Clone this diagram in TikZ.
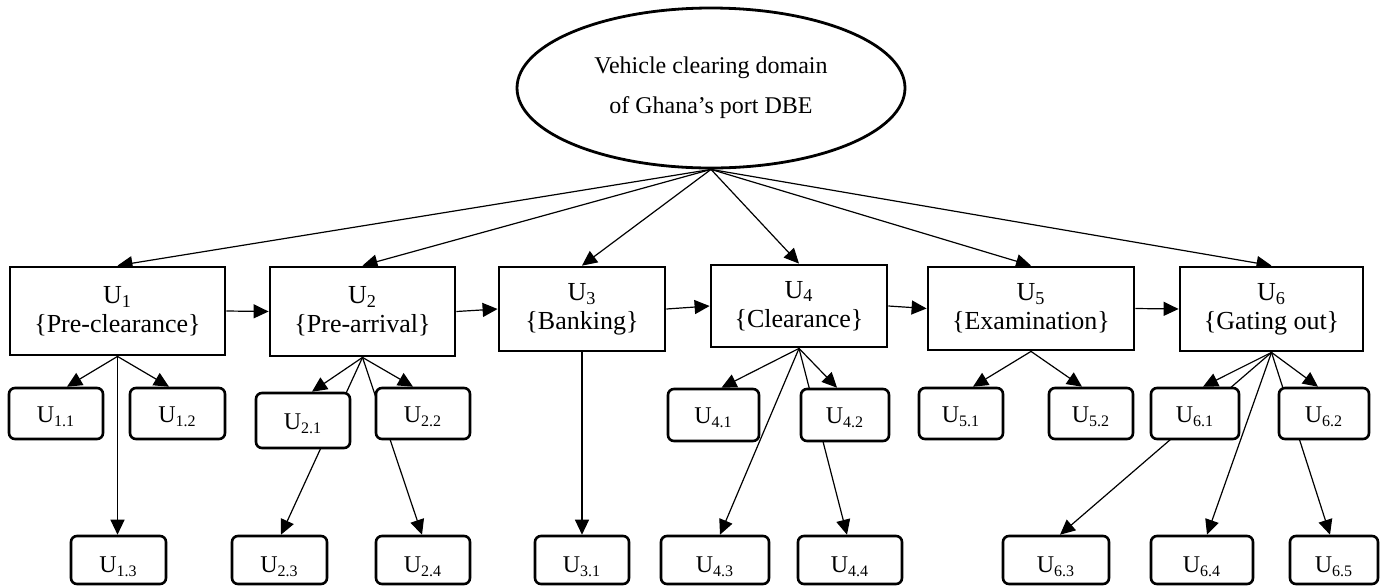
\documentclass[tikz,border=0pt]{standalone}
\usepackage{fontspec}
\setmainfont{Liberation Serif}
\usetikzlibrary{arrows.meta,shapes.geometric,backgrounds}
\newcommand\subU[1]{\raisebox{-1.5pt}[\height][\depth]{U\textsubscript{#1}}}
\newcommand\mainU[1]{U\textsubscript{#1}}
\newcommand\lowU[1]{\raisebox{-3.5pt}[\height][\depth]{U\textsubscript{#1}}}
\begin{document}
\begin{tikzpicture}[x=0.5pt,y=-0.5pt,
  root/.style={ellipse,draw,line width=1.4pt,fill=white,minimum width=194pt,minimum height=80pt,inner sep=0pt,align=center,font=\fontsize{12}{20}\selectfont},
  mainbox/.style={rectangle,draw,line width=1.4pt,fill=white,align=center,inner sep=0pt,font=\fontsize{13}{14.5}\selectfont},
  subbox/.style={rectangle,rounded corners=3pt,draw,line width=1.3pt,fill=white,inner sep=0pt,font=\fontsize{12}{14}\selectfont},
  link/.style={line width=0.6pt,-{Triangle[length=7.5pt,width=7pt]}}]
\useasboundingbox (0,0) rectangle (1386,585);
% root
\node[root] (R) at (711,88) {Vehicle clearing domain\\of Ghana’s port DBE};
% main boxes
\node[mainbox,minimum width=107.5pt,minimum height=44pt] (U1) at (117.5,311) {\mainU{1}\\\{Pre-clearance\}};
\node[mainbox,minimum width=92.5pt,minimum height=44.5pt] (U2) at (362.5,311.5) {\mainU{2}\\\{Pre-arrival\}};
\node[mainbox,minimum width=83pt,minimum height=42pt] (U3) at (582,309) {\mainU{3}\\\{Banking\}};
\node[mainbox,minimum width=88pt,minimum height=41pt] (U4) at (799,306) {\mainU{4}\\\{Clearance\}};
\node[mainbox,minimum width=103pt,minimum height=41.5pt] (U5) at (1031,308.5) {\mainU{5}\\\{Examination\}};
\node[mainbox,minimum width=91.5pt,minimum height=42pt] (U6) at (1271.5,309) {\mainU{6}\\\{Gating out\}};
% first row of sub boxes
\node[subbox,minimum width=47pt,minimum height=25.5pt] (U11) at (56,413.5) {\subU{1.1}};
\node[subbox,minimum width=47.5pt,minimum height=25.5pt] (U12) at (177.5,413.5) {\subU{1.2}};
\node[subbox,minimum width=47pt,minimum height=27.5pt] (U21) at (303,420.5) {\subU{2.1}};
\node[subbox,minimum width=47pt,minimum height=25.5pt] (U22) at (423,413.5) {\subU{2.2}};
\node[subbox,minimum width=45.5pt,minimum height=26pt] (U41) at (713.5,415) {\subU{4.1}};
\node[subbox,minimum width=44pt,minimum height=26pt] (U42) at (845,415) {\subU{4.2}};
\node[subbox,minimum width=42pt,minimum height=25.5pt] (U51) at (961,413.5) {\subU{5.1}};
\node[subbox,minimum width=42pt,minimum height=25.5pt] (U52) at (1091,413.5) {\subU{5.2}};
\node[subbox,minimum width=44pt,minimum height=25.5pt] (U61) at (1195,413.5) {\subU{6.1}};
\node[subbox,minimum width=45pt,minimum height=25.5pt] (U62) at (1324,413.5) {\subU{6.2}};
% second row of sub boxes
\node[subbox,minimum width=47.5pt,minimum height=24pt] (U13) at (118.5,560) {\lowU{1.3}};
\node[subbox,minimum width=47.5pt,minimum height=24pt] (U23) at (279.5,560) {\lowU{2.3}};
\node[subbox,minimum width=47pt,minimum height=24pt] (U24) at (423,560) {\lowU{2.4}};
\node[subbox,minimum width=47pt,minimum height=24pt] (U31) at (582,560) {\lowU{3.1}};
\node[subbox,minimum width=54pt,minimum height=24pt] (U43) at (715,560) {\lowU{4.3}};
\node[subbox,minimum width=52pt,minimum height=24pt] (U44) at (850,560) {\lowU{4.4}};
\node[subbox,minimum width=53pt,minimum height=24pt] (U63) at (1056,560) {\lowU{6.3}};
\node[subbox,minimum width=51pt,minimum height=24pt] (U64) at (1202,560) {\lowU{6.4}};
\node[subbox,minimum width=44pt,minimum height=24pt] (U65) at (1334,560) {\lowU{6.5}};
% connectors
\begin{scope}[on background layer]
\foreach \i in {1,...,6} \draw[link] (R.south) -- (U\i.north);
\draw[link] (U1.east) -- (U2.west);
\draw[link] (U2.east) -- (U3.west);
\draw[link] (U3.east) -- (U4.west);
\draw[link] (U4.east) -- (U5.west);
\draw[link] (U5.east) -- (U6.west);
\draw[link] (U1.south) -- ([xshift=5.5pt]U11.north);
\draw[link] (U1.south) -- ([xshift=-4.25pt]U12.north);
\draw[link] (U1.south) -- ([xshift=-0.5pt]U13.north);
\draw[link] (U2.south) -- ([xshift=4.5pt]U21.north);
\draw[link] (U2.south) -- ([xshift=-5pt]U22.north);
\draw[link] (U2.south) -- ([xshift=0.75pt]U23.north);
\draw[link] (U2.south) -- ([xshift=-0.5pt]U24.north);
\draw[link] (U3.south) -- (U31.north);
\draw[link] (U4.south) -- ([xshift=4pt]U41.north);
\draw[link] (U4.south) -- ([xshift=-4pt]U42.north);
\draw[link] (U4.south) -- ([xshift=2.5pt]U43.north);
\draw[link] (U4.south) -- ([xshift=-1.5pt]U44.north);
\draw[link] (U5.south) -- ([xshift=6pt]U51.north);
\draw[link] (U5.south) -- ([xshift=-4.5pt]U52.north);
\draw[link] (U6.south) -- ([xshift=4pt]U61.north);
\draw[link] (U6.south) -- ([xshift=-3pt]U62.north);
\draw[link] (U6.south) -- ([xshift=2pt]U63.north);
\draw[link] (U6.south) -- ([xshift=2.5pt]U64.north);
\draw[link] (U6.south) -- ([xshift=-2pt]U65.north);
\end{scope}
\end{tikzpicture}
\end{document}
